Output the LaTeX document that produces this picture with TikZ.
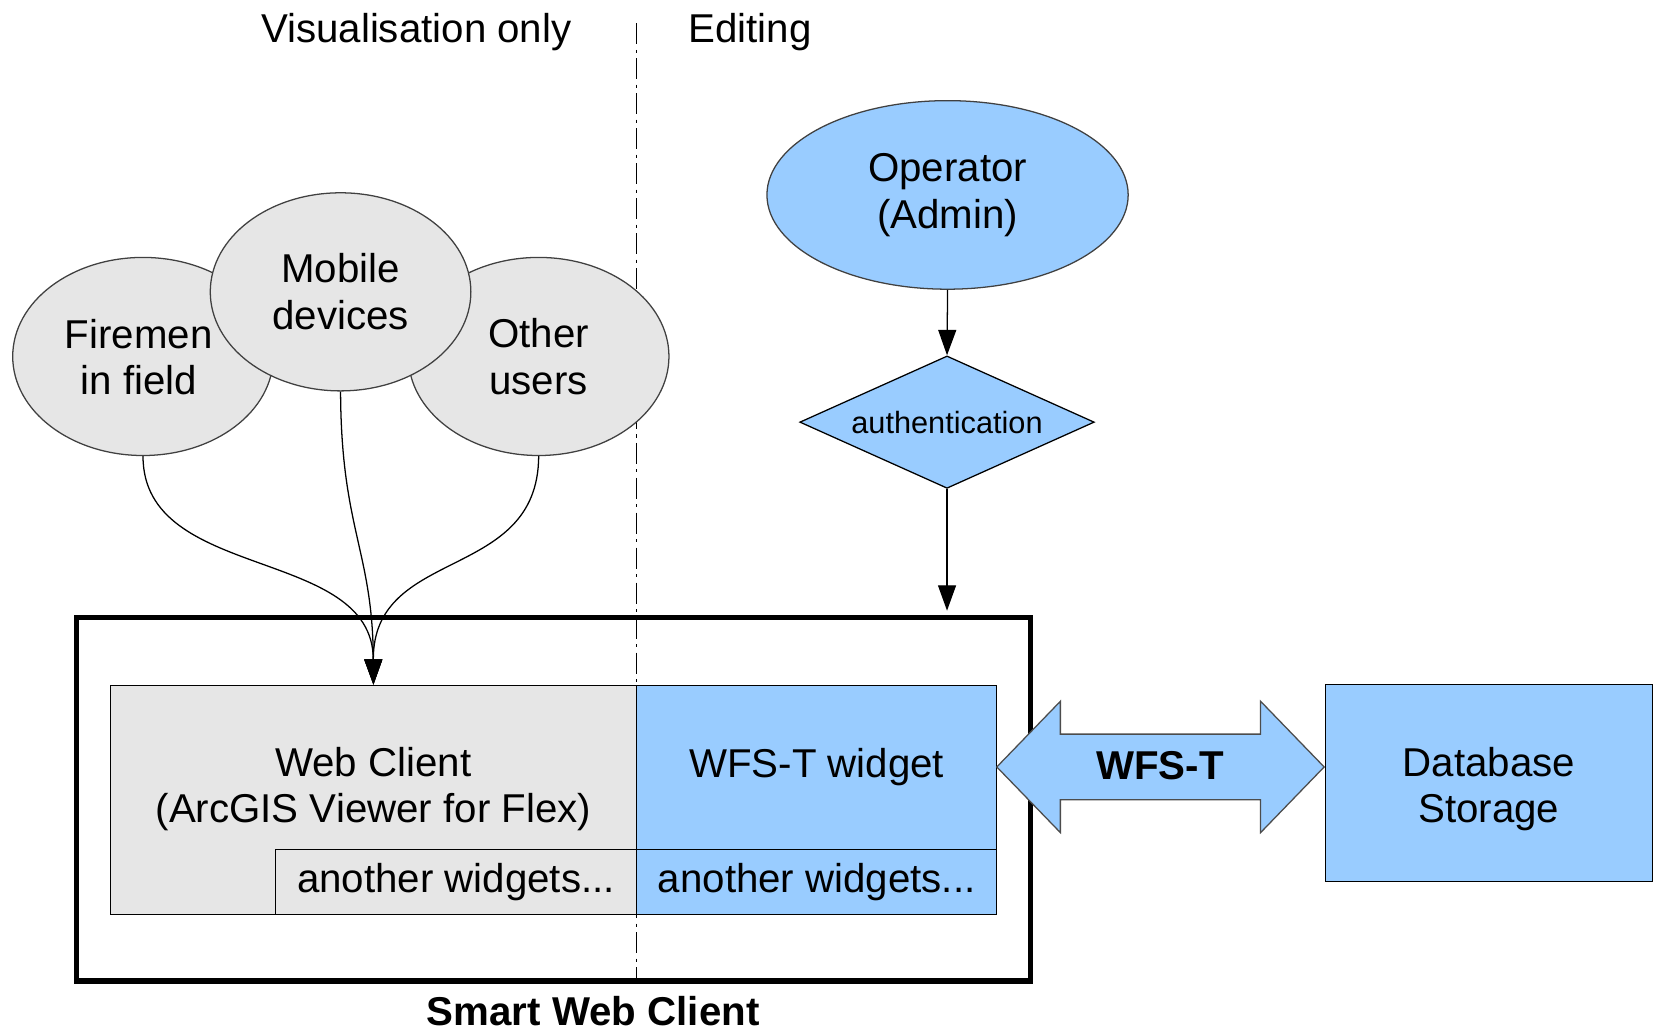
\documentclass[tikz,border=0pt]{standalone}
\usepackage{fontspec}
\setmainfont{Liberation Sans}
\usetikzlibrary{shapes.geometric,arrows.meta}
\definecolor{lgray}{HTML}{E6E6E6}
\definecolor{lblue}{HTML}{99CCFF}
\begin{document}
\begin{tikzpicture}[x=1pt,y=-1pt,
  font=\fontsize{38}{44}\selectfont,
  bubble/.style={ellipse, draw=black!75, fill=lgray, line width=1.2pt, minimum width=246pt, minimum height=187pt, inner sep=0pt, align=center},
  graybox/.style={rectangle, draw, fill=lgray, line width=1.2pt, inner sep=0pt, align=center},
  bluebox/.style={rectangle, draw, fill=lblue, line width=1.2pt, inner sep=0pt, align=center},
  conn/.style={line width=1.2pt, -{Triangle[length=24pt,width=17pt]}},
  dashdot/.style={line width=1.2pt, dash pattern=on 20pt off 5pt on 3pt off 5pt},
  plain/.style={inner sep=0pt, align=center}]
\useasboundingbox (0,0) rectangle (1568,975);
\fill[white] (0,0) rectangle (1568,975);

% headers and separator
\node[plain, anchor=base] (vis) at (393,40) {Visualisation only};
\node[plain, anchor=base] (edit) at (708,40) {Editing};
\coordinate (dtop) at (601,22);
\coordinate (dbot) at (601,926);
\draw[dashdot] (dtop) -- (dbot);

% user bubbles
\node[bubble] (fm) at (135,336.5) {};
\node[plain] (fmtext) at (131,337) {Firemen\\in field};
\node[bubble] (ou) at (508.5,336.5) {Other\\users};
\node[bubble] (md) at (321.5,275.5) {Mobile\\devices};

% operator and authentication
\node[bubble, fill=lblue, minimum width=341pt, minimum height=178pt] (op) at (894.5,184) {Operator\\(Admin)};
\node[diamond, draw, fill=lblue, line width=1.2pt, aspect=2.2, minimum width=278pt, minimum height=125pt, inner sep=0pt, font=\fontsize{29}{34}\selectfont] (auth) at (894,398.5) {authentication};

% smart web client frame
\node[draw, line width=5pt, minimum width=901pt, minimum height=343pt, inner sep=0pt] (swc) at (522.5,754.5) {};
\node[plain, anchor=base, font=\fontsize{38}{44}\selectfont\bfseries] (swclbl) at (560,968) {Smart Web Client};

% inner boxes
\node[graybox, minimum width=497pt, minimum height=216pt] (wc) at (352.5,755) {};
\node[plain] (wctext) at (352.5,745) {Web Client\\(ArcGIS Viewer for Flex)};
\node[graybox, minimum width=341pt, minimum height=61pt] (aw1) at (430.5,832.5) {another widgets...};
\node[bluebox, minimum width=340pt, minimum height=155pt] (wfsw) at (771,724.5) {WFS-T widget};
\node[bluebox, minimum width=340pt, minimum height=61pt] (aw2) at (771,832.5) {another widgets...};

% database
\node[bluebox, minimum width=309pt, minimum height=186pt] (db) at (1405.5,739) {};
\node[plain] (dbtext) at (1405.5,745) {Database\\Storage};

% WFS-T double arrow
\draw[fill=lblue, draw=black!70, line width=1.2pt]
  (941,724) -- (1001,662) -- (1001,693) -- (1190,693) -- (1190,662) -- (1250,724)
  -- (1190,786) -- (1190,755) -- (1001,755) -- (1001,786) -- cycle;
\node[plain, font=\fontsize{38}{44}\selectfont\bfseries] (wfst) at (1095,723) {WFS-T};

% connectors
\draw[conn] (fm.south) .. controls (135,550) and (352,515) .. (wc.north);
\draw[conn] (md.south) .. controls (322,500) and (352,520) .. (wc.north);
\draw[conn] (ou.south) .. controls (508,550) and (352,515) .. (wc.north);
\draw[conn] (op.south) -- (auth.north);
\draw[conn, shorten >=4pt] (auth.south) -- (auth.south |- swc.north);
\end{tikzpicture}
\end{document}
